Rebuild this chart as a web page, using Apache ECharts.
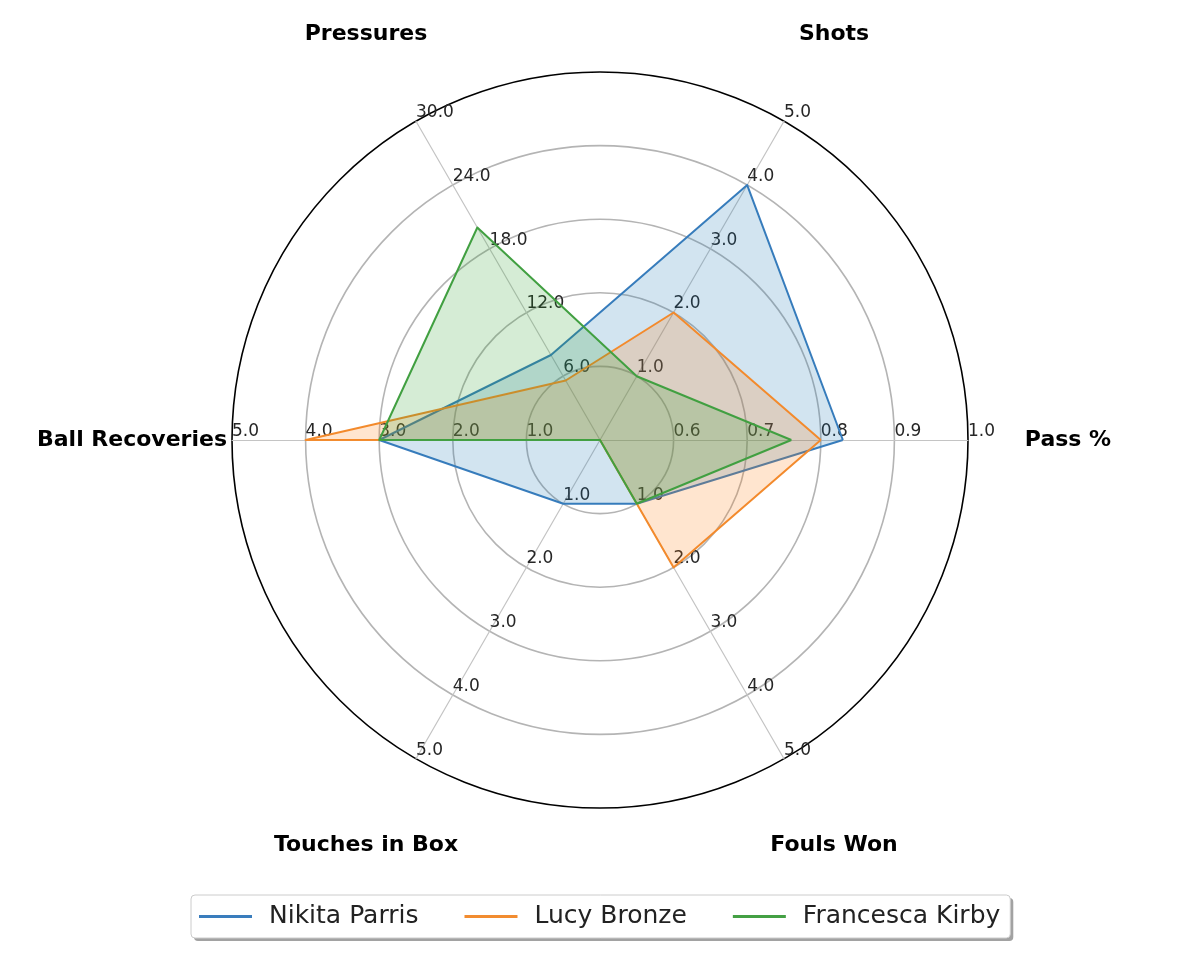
<!DOCTYPE html>
<html>
<head>
<meta charset="utf-8">
<script src="https://cdn.jsdelivr.net/npm/echarts@6/dist/echarts.min.js"></script>
<style>
html,body{margin:0;padding:0;background:#fff;}
#chart{width:1200px;height:968px;}
</style>
</head>
<body>
<div id="chart"></div>
<script>
// Axes (counter-clockwise from the right, as in the reference)
const categories = ['Pass %', 'Shots', 'Pressures', 'Ball Recoveries', 'Touches in Box', 'Fouls Won'];
const axisMin = [0.5, 0, 0, 0, 0, 0];
const axisMax = [1.0, 5, 30, 5, 5, 5];

const players = ['Nikita Parris', 'Lucy Bronze', 'Francesca Kirby'];
const parrisValues = [0.83, 4.0, 8.0, 3.0, 1.0, 1.0];
const bronzeValues = [0.80, 2.0, 5.6, 4.0, 0.0, 2.0];
const kirbyValues  = [0.76, 1.0, 20.0, 3.0, 0.0, 1.0];

const lineColors = ['#3a7dbd', '#f28c30', '#44a044'];
const fillColors = ['#1f77b4', '#ff7f0e', '#2ca02c'];

const seriesValues = [parrisValues, bronzeValues, kirbyValues];

const FONT = 'DejaVu Sans';

// legend geometry (computed from text widths so the shadow matches the box)
const LEG_FONT = 25, ICON_W = 53, ICON_H = 3, TEXT_PAD = 12, ITEM_GAP = 46;
const LEG_PAD = [9, 10, 9, 8];
const LEG_TOP = 895;
const mctx = document.createElement('canvas').getContext('2d');
mctx.font = 'normal normal ' + LEG_FONT + 'px ' + FONT;
let contentW = 0;
players.forEach((p, i) => {
  contentW += ICON_W + 5 + TEXT_PAD + mctx.measureText(p).width;
  if (i > 0) contentW += ITEM_GAP;
});
const legW = contentW + LEG_PAD[1] + LEG_PAD[3];
const legH = LEG_FONT + LEG_PAD[0] + LEG_PAD[2];
const legLeft = Math.round(601 - legW / 2);

const chart = echarts.init(document.getElementById('chart'));
chart.setOption({
  backgroundColor: '#ffffff',
  animation: false,
  graphic: [{
    type: 'rect',
    left: legLeft + 3,
    top: LEG_TOP + 3,
    z: 3,
    silent: true,
    shape: { width: legW, height: legH, r: 4 },
    style: { fill: '#a2a2a2' }
  }],
  legend: {
    data: players,
    left: legLeft,
    top: LEG_TOP,
    z: 5,
    orient: 'horizontal',
    icon: 'rect',
    itemWidth: ICON_W,
    itemHeight: ICON_H,
    itemGap: ITEM_GAP,
    padding: LEG_PAD,
    backgroundColor: '#ffffff',
    borderColor: '#cccccc',
    borderWidth: 1,
    borderRadius: 4,
    textStyle: {
      fontFamily: FONT,
      fontSize: LEG_FONT,
      lineHeight: LEG_FONT,
      color: '#222222',
      padding: [0, 0, 0, TEXT_PAD]
    }
  },
  radar: {
    center: [600, 440],
    radius: 368,
    startAngle: 0,
    shape: 'circle',
    splitNumber: 5,
    nameGap: 100,
    indicator: categories.map((c, i) => ({ name: c, min: axisMin[i], max: axisMax[i] })),
    axisName: {
      color: '#000000',
      fontFamily: FONT,
      fontSize: 22,
      fontWeight: 'bold',
      align: 'center',
      verticalAlign: 'middle'
    },
    splitLine: {
      lineStyle: {
        color: ['#b4b4b4', '#b4b4b4', '#b4b4b4', '#b4b4b4', '#b4b4b4', '#000000'],
        width: 1.6
      }
    },
    splitArea: { show: false },
    axisLine: { lineStyle: { color: '#c4c4c4', width: 1.2 } },
    axisTick: { show: false },
    axisLabel: {
      show: true,
      fontFamily: FONT,
      fontSize: 17,
      color: '#262626',
      align: 'left',
      verticalAlign: 'bottom',
      margin: 0,
      formatter: function (v) {
        if (Math.abs(v) < 1e-9 || Math.abs(v - 0.5) < 1e-9) return '';
        return Number(v).toFixed(1);
      }
    }
  },
  series: [{
    type: 'radar',
    symbol: 'none',
    data: players.map((p, i) => ({
      name: p,
      value: seriesValues[i],
      itemStyle: { color: lineColors[i] },
      lineStyle: { color: lineColors[i], width: 2 },
      areaStyle: { color: fillColors[i], opacity: 0.2 }
    }))
  }]
});
</script>
</body>
</html>
